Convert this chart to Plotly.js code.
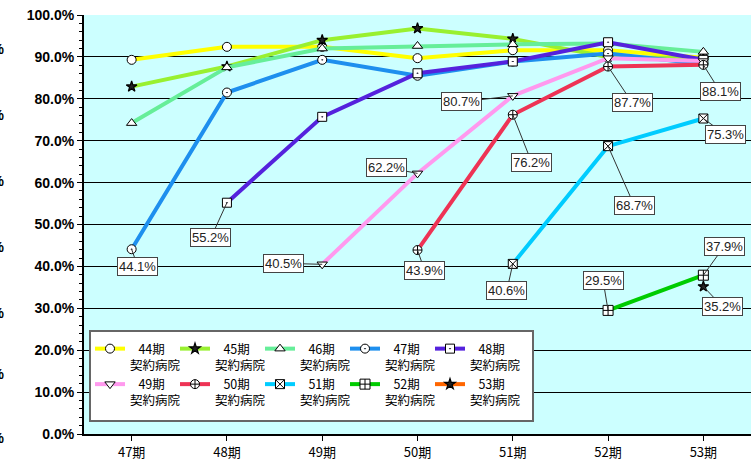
<!DOCTYPE html>
<html>
<head>
<meta charset="utf-8">
<script src="https://cdn.plot.ly/plotly-3.0.1.min.js"></script>
<style>html,body{margin:0;padding:0;background:#fff;}#chart{width:751px;height:464px;}</style>
</head>
<body>
<div id="chart"></div>
<script>
// ---- data ----
const categories = ['47期', '48期', '49期', '50期', '51期', '52期', '53期'];
const seriesNames = ['44期', '45期', '46期', '47期', '48期', '49期', '50期', '51期', '52期', '53期'];
const s44 = [89.3, 92.4, 92.4, 89.7, 91.6, 91.6, 89.8];
const s45 = [82.9, 87.7, 94.0, 96.8, 94.3, 90.0, 89.6];
const s46 = [74.2, 87.5, 92.0, 92.6, 93.0, 93.2, 91.2];
const s47 = [44.1, 81.5, 89.3, 85.5, 88.9, 90.8, 88.3];
const s48 = [null, 55.2, 75.7, 86.1, 88.9, 93.5, 89.3];
const s49 = [null, null, 40.5, 62.2, 80.7, 89.7, 89.0];
const s50 = [null, null, null, 43.9, 76.2, 87.7, 88.1];
const s51 = [null, null, null, null, 40.6, 68.7, 75.3];
const s52 = [null, null, null, null, null, 29.5, 37.9];
const s53 = [null, null, null, null, null, null, 35.2];
const seriesValues = [s44, s45, s46, s47, s48, s49, s50, s51, s52, s53];
const yTickValues = [0, 10, 20, 30, 40, 50, 60, 70, 80, 90, 100];
const yTickLabels = ['0.0%', '10.0%', '20.0%', '30.0%', '40.0%', '50.0%', '60.0%', '70.0%', '80.0%', '90.0%', '100.0%'];

// ---- styles ----
const colors = ['#FFFF00', '#99F030', '#66EE99', '#1E8FEE', '#5522DD', '#FF99EE', '#EE3355', '#00CCFF', '#00CC00', '#FF6600'];
const symbols = ['circle', 'star', 'triangle-up', 'circle-dot', 'square-dot', 'triangle-down', 'circle-cross', 'square-x', 'square-cross', 'star'];
const markerSizes = [9, 8, 9, 9, 9, 9, 9, 9, 10, 8];
const groups = ['g1', 'g2', 'g3', 'g4', 'g5', 'g1', 'g2', 'g3', 'g4', 'g5'];

// labelled points: [series index, category index, ax, ay]
const labels = [
  [3, 0, 6, 17], [4, 1, -16, 35], [5, 2, -39, -1], [6, 3, 7, 20], [5, 3, -31, -6],
  [5, 4, -51, 6], [6, 4, 19, 48], [7, 4, -6, 27], [6, 5, 24, 36], [7, 5, 26, 59],
  [8, 5, -5, -30], [6, 6, 17, 27], [7, 6, 22, 16], [8, 6, 21, -29], [9, 6, 19, 20]
];

const pad = '\u00a0\u00a0\u00a0';
const traces = seriesValues.map((vals, i) => {
  const t = {
    type: 'scatter', mode: 'lines+markers',
    x: categories, y: vals,
    name: pad + seriesNames[i] + '<br>契約病院',
    legendgroup: groups[i],
    line: {color: colors[i], width: 4},
    marker: {symbol: symbols[i], size: markerSizes[i], color: (i === 1 || i === 9) ? '#222' : '#fff',
             line: {color: '#000', width: (i === 1 || i === 9) ? 1.2 : 1}},
    hoverinfo: 'skip'
  };
  if (groups[i] === 'g5') t.legendwidth = 60;
  return t;
});

const annotations = labels.map(([si, ci, ax, ay]) => ({
  x: categories[ci], y: seriesValues[si][ci], xref: 'x', yref: 'y',
  text: seriesValues[si][ci].toFixed(1) + '%',
  showarrow: true, arrowhead: 0, arrowwidth: 1, arrowcolor: '#333', standoff: 0,
  ax: ax, ay: ay,
  bgcolor: '#fff', bordercolor: '#444', borderwidth: 1, borderpad: 1,
  font: {family: 'Liberation Sans, Arial, sans-serif', size: 13, color: '#222'}
}));

// clipped labels of a neighbouring axis at the left edge
[49, 115, 181, 247, 313, 374, 438].forEach(py => {
  annotations.push({
    xref: 'paper', yref: 'paper', x: (6 - 84) / 667, y: (434 - py) / 419,
    xanchor: 'right', yanchor: 'middle', showarrow: false, text: '0.0%',
    font: {family: 'Liberation Sans, Arial, sans-serif', size: 14, color: '#000', weight: 'bold'}
  });
});

const layout = {
  width: 751, height: 464,
  margin: {l: 84, r: 0, t: 15, b: 30},
  paper_bgcolor: '#fff', plot_bgcolor: '#CCFFFF',
  showlegend: true,
  xaxis: {
    type: 'category', range: [-0.5, 6.5], fixedrange: true,
    showline: true, linecolor: '#000', linewidth: 2,
    ticks: 'outside', ticklen: 5, tickcolor: '#000', tickwidth: 1,
    showgrid: false, zeroline: false,
    tickfont: {family: 'Noto Sans CJK JP, sans-serif', size: 13, color: '#000'}
  },
  yaxis: {
    range: [0, 100], tickmode: 'array', tickvals: yTickValues, ticktext: yTickLabels,
    showline: true, linecolor: '#000', linewidth: 2,
    ticks: 'outside', ticklen: 5, tickcolor: '#000', tickwidth: 1,
    minor: {dtick: 2, ticks: 'outside', ticklen: 3, tickcolor: '#000', showgrid: false},
    showgrid: true, gridcolor: '#000', gridwidth: 1, zeroline: false,
    tickfont: {family: 'Liberation Sans, Arial, sans-serif', size: 14, color: '#000', weight: 'bold'}
  },
  shapes: [{
    type: 'rect', xref: 'paper', yref: 'paper', layer: 'above',
    x0: (90 - 84) / 667, x1: (533 - 84) / 667, y0: (434 - 421) / 419, y1: (434 - 331) / 419,
    fillcolor: '#fff', line: {color: '#666', width: 2}
  }],
  legend: {
    orientation: 'h', traceorder: 'grouped', entrywidth: 40,
    x: (90 - 84) / 667, y: (434 - 334) / 419, xanchor: 'left', yanchor: 'top',
    bgcolor: 'rgba(0,0,0,0)', borderwidth: 0,
    font: {family: 'Noto Sans CJK JP, sans-serif', size: 12.5, color: '#000'},
    valign: 'top', itemwidth: 30
  },
  annotations: annotations
};

Plotly.newPlot('chart', traces, layout, {displayModeBar: false, staticPlot: true});
</script>
</body>
</html>
